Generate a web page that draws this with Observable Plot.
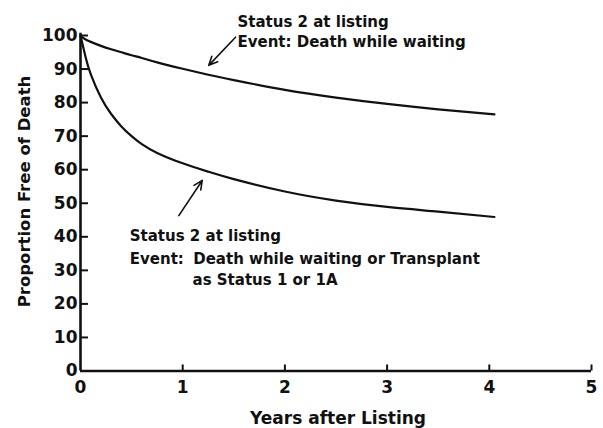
<!DOCTYPE html>
<html>
<head>
<meta charset="utf-8">
<script src="https://cdn.jsdelivr.net/npm/d3@7"></script>
<script src="https://cdn.jsdelivr.net/npm/@observablehq/plot@0.6"></script>
<style>
  html, body { margin: 0; padding: 0; background: #fff; }
  #chart svg { display: block; }
</style>
</head>
<body>
<div id="chart"></div>
<script>
// ---- data ----
const years = [0, 0.05, 0.1, 0.2, 0.3, 0.4, 0.5, 0.6, 0.75, 1, 1.25, 1.5, 2, 2.5, 3, 3.5, 4.05];
const deathOnly = [99.8, 98.8, 98.1, 96.9, 95.9, 95.0, 94.1, 93.3, 92.0, 90.1, 88.3, 86.7, 83.8, 81.5, 79.6, 78.0, 76.5];
const deathOrTransplant = [100, 93.5, 88.5, 81.5, 76.6, 72.9, 70.0, 67.6, 65.0, 61.9, 59.4, 57.2, 53.5, 50.8, 48.9, 47.5, 45.9];

const xTicks = [0, 1, 2, 3, 4, 5];
const yTicks = [0, 10, 20, 30, 40, 50, 60, 70, 80, 90, 100];

const xTitle = "Years after Listing";
const yTitle = "Proportion Free of Death";

// annotation text lines (x in years, y in percent)
const labelText = [
  "Status 2 at listing", "Event: Death while waiting",
  "Status 2 at listing", "Event:", "Death while waiting or Transplant", "as Status 1 or 1A"
];
const labelX = [1.536, 1.536, 0.482, 0.482, 1.103, 1.096];
const labelY = [105.6, 99.6, 41.8, 35.2, 35.2, 28.8];

// annotation arrows
const arrowX1 = [1.517, 0.962];
const arrowY1 = [99.5, 46.3];
const arrowX2 = [1.255, 1.191];
const arrowY2 = [91.1, 56.8];

// axis title positions (x in years, y in percent)
const yTitleX = -0.499;
const yTitleY = 53.5;

// ---- build tables ----
const series = [
  ...years.map((t, i) => ({t, v: deathOnly[i], s: "death"})),
  ...years.map((t, i) => ({t, v: deathOrTransplant[i], s: "both"}))
];
const labels = labelText.map((text, i) => ({text, x: labelX[i], y: labelY[i]}));
const arrows = arrowX1.map((x1, i) => ({x1, y1: arrowY1[i], x2: arrowX2[i], y2: arrowY2[i]}));

const FONT = "DejaVu Sans";

const chart = Plot.plot({
  width: 603,
  height: 428,
  marginLeft: 80,
  marginRight: 12,
  marginTop: 35,
  marginBottom: 57.5,
  x: {domain: [0, 5]},
  y: {domain: [0, 100]},
  style: {fontFamily: FONT, color: "#111", background: "#fff", overflow: "visible"},
  marks: [
    // tick labels
    Plot.axisY(yTicks, {tickSize: 0, tickPadding: 3, fontSize: 17, fontWeight: "bold", label: null}),
    Plot.axisX(xTicks, {tickSize: 0, tickPadding: 10, fontSize: 17, fontWeight: "bold", label: null}),
    // inward ticks
    Plot.ruleY(yTicks.slice(1), {x1: 0, x2: 0.078, stroke: "#111", strokeWidth: 2}),
    Plot.ruleX(xTicks.slice(1), {y1: 0, y2: 1.8, stroke: "#111", strokeWidth: 2}),
    // axis lines
    Plot.ruleX([0], {y1: 0, y2: 100.7, stroke: "#111", strokeWidth: 2.6}),
    Plot.ruleY([0], {x1: 0, x2: 5, stroke: "#111", strokeWidth: 2.6}),
    // curves
    Plot.line(series, {x: "t", y: "v", z: "s", stroke: "#111", strokeWidth: 2.2, curve: "natural"}),
    // arrows
    Plot.arrow(arrows, {x1: "x1", y1: "y1", x2: "x2", y2: "y2", stroke: "#111", strokeWidth: 1.6, headLength: 9, headAngle: 50}),
    // annotation text
    Plot.text(labels, {x: "x", y: "y", text: "text", textAnchor: "start", lineAnchor: "top",
      fontSize: 15, fontWeight: "bold", fill: "#111"}),
    // axis titles
    Plot.text([xTitle], {frameAnchor: "bottom", dx: 2, dy: 52.5, lineAnchor: "bottom",
      fontSize: 17, fontWeight: "bold", fill: "#111"}),
    Plot.text([yTitle], {x: () => yTitleX, y: () => yTitleY, rotate: -90, lineAnchor: "bottom",
      fontSize: 16.5, fontWeight: "bold", fill: "#111"})
  ]
});

document.getElementById("chart").appendChild(chart);
</script>
</body>
</html>
